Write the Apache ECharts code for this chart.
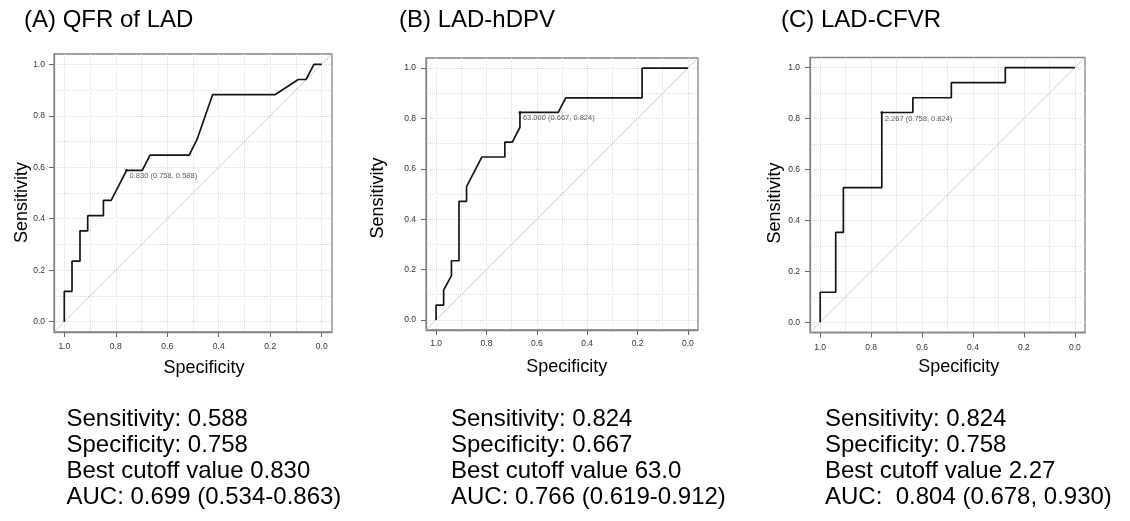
<!DOCTYPE html>
<html><head><meta charset="utf-8">
<script src="https://cdn.jsdelivr.net/npm/echarts@6/dist/echarts.min.js"></script>
<style>html,body{margin:0;padding:0;background:#fff}#c{width:1130px;height:521px}</style>
</head><body><div id="c"></div>
<script>
// ---- data ----
const panelTitles = ['(A) QFR of LAD', '(B) LAD-hDPV', '(C) LAD-CFVR'];
const xAxisTitle = 'Specificity';
const yAxisTitle = 'Sensitivity';
const tickValues = [0, 0.2, 0.4, 0.6, 0.8, 1.0];
const gridValues = [0, 0.1, 0.2, 0.3, 0.4, 0.5, 0.6, 0.7, 0.8, 0.9, 1.0];
const axisMin = -0.04, axisMax = 1.04;

// ROC curves: [specificity, sensitivity]
const rocA = [[1,0],[1,0.118],[0.970,0.118],[0.970,0.235],[0.939,0.235],[0.939,0.353],[0.909,0.353],[0.909,0.412],[0.848,0.412],[0.848,0.471],[0.818,0.471],[0.758,0.588],[0.697,0.588],[0.667,0.647],[0.515,0.647],[0.485,0.706],[0.424,0.882],[0.182,0.882],[0.091,0.941],[0.061,0.941],[0.030,1.0],[0,1.0]];
const rocB = [[1,0],[1,0.059],[0.970,0.059],[0.970,0.118],[0.939,0.176],[0.939,0.235],[0.909,0.235],[0.909,0.471],[0.879,0.471],[0.879,0.529],[0.818,0.647],[0.727,0.647],[0.727,0.706],[0.697,0.706],[0.667,0.765],[0.667,0.824],[0.515,0.824],[0.485,0.882],[0.182,0.882],[0.182,1.0],[0,1.0]];
const rocC = [[1,0],[1,0.118],[0.939,0.118],[0.939,0.353],[0.909,0.353],[0.909,0.529],[0.758,0.529],[0.758,0.824],[0.636,0.824],[0.636,0.882],[0.485,0.882],[0.485,0.941],[0.273,0.941],[0.273,1.0],[0,1.0]];

const bestPoints = [[0.758, 0.588], [0.667, 0.824], [0.758, 0.824]];
const bestLabels = ['0.830 (0.758, 0.588)', '63.000 (0.667, 0.824)', '2.267 (0.758, 0.824)'];

const statsA = ['Sensitivity: 0.588', 'Specificity: 0.758', 'Best cutoff value 0.830', 'AUC: 0.699 (0.534-0.863)'];
const statsB = ['Sensitivity: 0.824', 'Specificity: 0.667', 'Best cutoff value 63.0', 'AUC: 0.766 (0.619-0.912)'];
const statsC = ['Sensitivity: 0.824', 'Specificity: 0.758', 'Best cutoff value 2.27', 'AUC:  0.804 (0.678, 0.930)'];

// ---- layout ----
const FONT = '"Liberation Sans", Arial, sans-serif';
const layout = [
  {grid:{left:54,top:54,width:278,height:278}, title:[24,20], xTitle:[204,368], yTitle:[22.5,202.5], stats:[66.5,419], yMargin:9, xMargin:10.5},
  {grid:{left:426,top:58,width:272,height:272}, title:[399,20], xTitle:[566.7,366.7], yTitle:[378,198], stats:[451,419], yMargin:10, xMargin:9.3},
  {grid:{left:810,top:57.5,width:275,height:275}, title:[781,20], xTitle:[958.8,366.7], yTitle:[775.5,203], stats:[825,419], yMargin:10, xMargin:11}
];
const rocs = [rocA, rocB, rocC];
const stats = [statsA, statsB, statsC];

const grids = [], xAxes = [], yAxes = [], series = [], graphics = [];
const fmt = v => Number(v).toFixed(1);
const BORDER = '#858585';

layout.forEach((L, i) => {
  grids.push(Object.assign({show:true, borderColor:BORDER, borderWidth:1.3, backgroundColor:'transparent'}, L.grid));
  // main axes (ticks + labels)
  xAxes.push({type:'value', gridIndex:i, min:axisMin, max:axisMax, inverse:true, position:'bottom',
    axisLine:{show:true, onZero:false, lineStyle:{color:BORDER, width:1.3}},
    axisTick:{show:true, inside:false, length:5, customValues:tickValues, lineStyle:{color:'#6a6a6a', width:1}},
    axisLabel:{show:true, customValues:tickValues, formatter:fmt, margin:L.xMargin, fontSize:8.5, color:'#333', fontFamily:FONT},
    splitLine:{show:false}});
  yAxes.push({type:'value', gridIndex:i, min:axisMin, max:axisMax, position:'left',
    axisLine:{show:true, onZero:false, lineStyle:{color:BORDER, width:1.3}},
    axisTick:{show:true, inside:false, length:5, customValues:tickValues, lineStyle:{color:'#6a6a6a', width:1}},
    axisLabel:{show:true, customValues:tickValues, formatter:fmt, margin:L.yMargin, fontSize:8.5, color:'#333', fontFamily:FONT},
    splitLine:{show:false}});
  // grid axes (dotted gridlines every 0.1)
  xAxes.push({type:'value', gridIndex:i, min:axisMin, max:axisMax, inverse:true, position:'top',
    axisLine:{show:false, onZero:false}, axisTick:{show:false, customValues:gridValues}, axisLabel:{show:false, customValues:gridValues},
    splitLine:{show:true, lineStyle:{color:'#dcdcdc', type:'dotted', width:1}}});
  yAxes.push({type:'value', gridIndex:i, min:axisMin, max:axisMax, position:'right',
    axisLine:{show:false, onZero:false}, axisTick:{show:false, customValues:gridValues}, axisLabel:{show:false, customValues:gridValues},
    splitLine:{show:true, lineStyle:{color:'#dcdcdc', type:'dotted', width:1}}});
  const xi = i * 2, yi = i * 2;
  // chance diagonal: sensitivity = 1 - specificity, across the full plot
  series.push({type:'line', xAxisIndex:xi, yAxisIndex:yi, symbol:'none', silent:true, animation:false,
    data:[[axisMax, 1 - axisMax], [axisMin, 1 - axisMin]],
    lineStyle:{color:'#cfcfcf', width:1}});
  series.push({type:'line', xAxisIndex:xi, yAxisIndex:yi, symbol:'none', animation:false,
    data:rocs[i], lineStyle:{color:'#151515', width:1.7}});
  series.push({type:'scatter', xAxisIndex:xi, yAxisIndex:yi, animation:false, symbolSize:3,
    itemStyle:{color:'#111'}, data:[bestPoints[i]],
    label:{show:true, formatter:bestLabels[i], position:[4.5, 7.5], align:'left', verticalAlign:'middle',
      fontSize:7.5, color:'#333', fontFamily:FONT}});
  // texts
  graphics.push({type:'text', x:L.title[0], y:L.title[1], style:{text:panelTitles[i], font:'24px ' + FONT, fill:'#000', textAlign:'left', textVerticalAlign:'middle'}});
  graphics.push({type:'text', x:L.xTitle[0], y:L.xTitle[1], style:{text:xAxisTitle, font:'18px ' + FONT, fill:'#000', textAlign:'center', textVerticalAlign:'middle'}});
  graphics.push({type:'text', x:L.yTitle[0], y:L.yTitle[1], rotation:Math.PI/2, style:{text:yAxisTitle, font:'18px ' + FONT, fill:'#000', textAlign:'center', textVerticalAlign:'middle'}});
  stats[i].forEach((s, k) => {
    graphics.push({type:'text', x:L.stats[0], y:L.stats[1] + k * 26, style:{text:s, font:'24px ' + FONT, fill:'#000', textAlign:'left', textVerticalAlign:'middle'}});
  });
});

const chart = echarts.init(document.getElementById('c'), null, {renderer:'canvas'});
chart.setOption({
  animation:false,
  backgroundColor:'#fff',
  grid:grids, xAxis:xAxes, yAxis:yAxes, series:series, graphic:graphics
});
</script>
</body></html>
